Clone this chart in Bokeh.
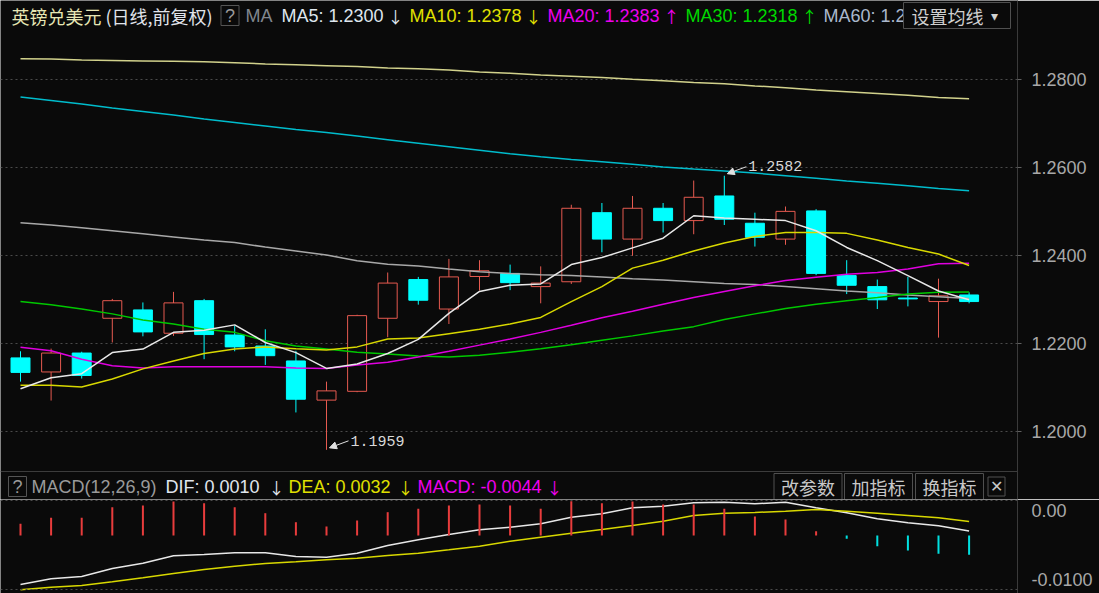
from bokeh.plotting import figure
from bokeh.layouts import column
from bokeh.models import (ColumnDataSource, FixedTicker, PrintfTickFormatter, Range1d,
                          Label, Span, Arrow, NormalHead)
from bokeh.embed import file_html
from bokeh.resources import INLINE

# ---------------- data ----------------
opens = [1.2168, 1.2136, 1.2179, 1.2258, 1.2277, 1.2224, 1.2298, 1.2220, 1.2195, 1.2161, 1.2072,
         1.2092, 1.2258, 1.2346, 1.2279, 1.2353, 1.2360, 1.2330, 1.2341, 1.2498, 1.2438, 1.2508,
         1.2480, 1.2536, 1.2474, 1.2438, 1.2502, 1.2355, 1.2330, 1.2304, 1.2296, 1.2311]
highs = [1.2183, 1.2189, 1.2182, 1.2302, 1.2294, 1.2318, 1.2302, 1.2241, 1.2233, 1.2184, 1.2114,
         1.2266, 1.2362, 1.2352, 1.2393, 1.2390, 1.2380, 1.2376, 1.2516, 1.2520, 1.2536, 1.2520,
         1.2571, 1.2582, 1.2498, 1.2512, 1.2506, 1.2390, 1.2346, 1.2352, 1.2348, 1.2317]
lows = [1.2114, 1.2071, 1.2121, 1.2203, 1.2217, 1.2218, 1.2165, 1.2183, 1.2152, 1.2044, 1.1959,
        1.2090, 1.2215, 1.2289, 1.2245, 1.2321, 1.2322, 1.2292, 1.2336, 1.2408, 1.2400, 1.2453,
        1.2449, 1.2470, 1.2421, 1.2425, 1.2356, 1.2313, 1.2279, 1.2285, 1.2214, 1.2292]
closes = [1.2135, 1.2179, 1.2128, 1.2298, 1.2227, 1.2293, 1.2221, 1.2193, 1.2173, 1.2074, 1.2093,
          1.2264, 1.2338, 1.2299, 1.2352, 1.2366, 1.2339, 1.2338, 1.2508, 1.2438, 1.2508, 1.2480,
          1.2533, 1.2483, 1.2442, 1.2501, 1.2360, 1.2333, 1.2300, 1.2302, 1.2309, 1.2296]

ma5 = [1.2098, 1.2123, 1.2132, 1.2180, 1.2188, 1.2226, 1.2231, 1.2243, 1.2203, 1.2180, 1.2144,
       1.2154, 1.2178, 1.2210, 1.2269, 1.2319, 1.2333, 1.2336, 1.2380, 1.2396, 1.2418, 1.2440,
       1.2491, 1.2486, 1.2483, 1.2480, 1.2457, 1.2419, 1.2389, 1.2355, 1.2320, 1.2300]
ma10 = [1.2106, 1.2106, 1.2102, 1.2120, 1.2143, 1.2161, 1.2178, 1.2188, 1.2193, 1.2189, 1.2186,
        1.2193, 1.2211, 1.2213, 1.2223, 1.2233, 1.2245, 1.2260, 1.2296, 1.2330, 1.2372, 1.2390,
        1.2411, 1.2429, 1.2444, 1.2453, 1.2453, 1.2451, 1.2436, 1.2419, 1.2404, 1.2378]
ma20 = [1.2192, 1.2184, 1.2165, 1.2150, 1.2145, 1.2148, 1.2148, 1.2148, 1.2148, 1.2145, 1.2144,
        1.2152, 1.2158, 1.2170, 1.2183, 1.2197, 1.2211, 1.2226, 1.2242, 1.2259, 1.2274, 1.2290,
        1.2305, 1.2319, 1.2332, 1.2344, 1.2351, 1.2358, 1.2362, 1.2370, 1.2382, 1.2383]
ma30 = [1.2296, 1.2289, 1.2279, 1.2268, 1.2254, 1.2245, 1.2233, 1.2226, 1.2207, 1.2195, 1.2188,
        1.2181, 1.2177, 1.2172, 1.2170, 1.2174, 1.2181, 1.2189, 1.2198, 1.2208, 1.2218, 1.2229,
        1.2239, 1.2255, 1.2268, 1.2280, 1.2290, 1.2298, 1.2305, 1.2313, 1.2317, 1.2318]
ma60 = [1.2475, 1.2470, 1.2464, 1.2457, 1.2450, 1.2443, 1.2436, 1.2430, 1.2420, 1.2411, 1.2402,
        1.2389, 1.2381, 1.2377, 1.2370, 1.2364, 1.2360, 1.2357, 1.2355, 1.2352, 1.2348, 1.2345,
        1.2341, 1.2337, 1.2335, 1.2330, 1.2325, 1.2320, 1.2316, 1.2311, 1.2307, 1.2303]
ma120 = [1.2761, 1.2753, 1.2745, 1.2736, 1.2728, 1.2720, 1.2711, 1.2703, 1.2695, 1.2687, 1.2680,
         1.2672, 1.2664, 1.2656, 1.2648, 1.2640, 1.2632, 1.2625, 1.2619, 1.2614, 1.2608, 1.2602,
         1.2597, 1.2593, 1.2588, 1.2582, 1.2576, 1.2570, 1.2565, 1.2559, 1.2553, 1.2548]
ma250 = [1.2848, 1.2847, 1.2845, 1.2844, 1.2843, 1.2842, 1.2841, 1.2839, 1.2836, 1.2834, 1.2832,
         1.2830, 1.2827, 1.2825, 1.2822, 1.2818, 1.2815, 1.2811, 1.2808, 1.2805, 1.2801, 1.2798,
         1.2794, 1.2791, 1.2786, 1.2782, 1.2777, 1.2773, 1.2769, 1.2765, 1.2760, 1.2757]

dif = [-0.01114, -0.00984, -0.00932, -0.00750, -0.00630, -0.00461, -0.00432, -0.00393, -0.00393,
       -0.00477, -0.00493, -0.00402, -0.00227, -0.00098, 0.00023, 0.00130, 0.00189, 0.00266,
       0.00416, 0.00493, 0.00630, 0.00666, 0.00743, 0.00757, 0.00720, 0.00757, 0.00630, 0.00516,
       0.00380, 0.00289, 0.00220, 0.00100]
dea = [-0.01234, -0.01175, -0.01136, -0.01052, -0.00961, -0.00864, -0.00773, -0.00698, -0.00636,
       -0.00595, -0.00552, -0.00516, -0.00455, -0.00402, -0.00325, -0.00243, -0.00130, -0.00039,
       0.00052, 0.00136, 0.00227, 0.00325, 0.00455, 0.00507, 0.00523, 0.00552, 0.00591, 0.00552,
       0.00507, 0.00455, 0.00402, 0.00320]
macd = [0.00266, 0.00402, 0.00402, 0.00643, 0.00682, 0.00773, 0.00734, 0.00643, 0.00507, 0.00302,
        0.00205, 0.00341, 0.00530, 0.00607, 0.00682, 0.00705, 0.00682, 0.00607, 0.00780, 0.00734,
        0.00773, 0.00705, 0.00705, 0.00607, 0.00432, 0.00364, 0.00098, -0.00075, -0.00243,
        -0.00341, -0.00416, -0.00440]

price_ticks = [1.20, 1.22, 1.24, 1.26, 1.28]
macd_ticks = [-0.01]
cursor_value = 0.00568          # level of the highlighted "0.00" marker on the MACD scale
cursor_text = "0.00"

# ---------------- styling / layout constants ----------------
BG = "#0a0a0a"
RED = "#e65a50"
CYAN = "#00ffff"
GRID = "#4a4a4a"
AXIS = "#3a3a3a"
TICKTXT = "#a8a8a8"
W = 1099
HA = 499
HB = 94
FRAME_W = 1017
PX = 30.6      # pixels per candle
PY = 4400.0    # pixels per price unit
FIRST = 20     # pixel position of first candle
TOP_PRICE_PX = 79.3   # pixel row of the 1.28 level
ZERO_PX = 36          # pixel row of MACD zero inside its panel

n = len(opens)
idx = list(range(n))
xr = Range1d(-FIRST / PX, (FRAME_W - FIRST) / PX)

pA = figure(width=W, height=HA, x_range=xr,
            y_range=Range1d(1.28 - (HA - TOP_PRICE_PX) / PY, 1.28 + TOP_PRICE_PX / PY),
            output_backend="svg", toolbar_location=None, title=None,
            x_axis_location=None, y_axis_location="right",
            min_border_left=0, min_border_top=0, min_border_bottom=0, min_border_right=W - FRAME_W,
            background_fill_color=BG, border_fill_color=BG, outline_line_color=None)

def style_axis(ax, ticks):
    ax.ticker = FixedTicker(ticks=ticks)
    ax.formatter = PrintfTickFormatter(format="%.4f")
    ax.major_label_text_color = TICKTXT
    ax.major_label_text_font = "Liberation Sans"
    ax.major_label_text_font_size = "18px"
    ax.axis_line_color = AXIS
    ax.major_tick_line_color = "#606060"
    ax.major_tick_in = 0
    ax.major_tick_out = 4
    ax.minor_tick_line_color = None
    ax.major_label_standoff = 10

style_axis(pA.yaxis[0], price_ticks)
pA.xgrid.visible = False
pA.ygrid.ticker = FixedTicker(ticks=price_ticks)
pA.ygrid.grid_line_color = GRID
pA.ygrid.grid_line_dash = "2 3"

# candles
up_i = [i for i in idx if closes[i] >= opens[i]]
dn_i = [i for i in idx if closes[i] < opens[i]]
def sub(lst, ii):
    return [lst[i] for i in ii]
srcU = ColumnDataSource(dict(x=up_i, o=sub(opens, up_i), h=sub(highs, up_i), l=sub(lows, up_i), c=sub(closes, up_i)))
srcD = ColumnDataSource(dict(x=dn_i, o=sub(opens, dn_i), h=sub(highs, dn_i), l=sub(lows, dn_i), c=sub(closes, dn_i)))
pA.segment(x0="x", y0="h", x1="x", y1="l", source=srcU, line_color=RED, line_width=1)
pA.vbar(x="x", width=0.62, top="c", bottom="o", source=srcU, fill_color=BG, line_color=RED, line_width=1)
pA.segment(x0="x", y0="h", x1="x", y1="l", source=srcD, line_color=CYAN, line_width=1)
pA.vbar(x="x", width=0.62, top="o", bottom="c", source=srcD, fill_color=CYAN, line_color=CYAN, line_width=1)

# moving averages
for vals, col in [(ma250, "#d2d28c"), (ma120, "#00bccc"), (ma60, "#a8a8a8"), (ma30, "#00c800"),
                  (ma20, "#e000e0"), (ma10, "#d8d800"), (ma5, "#e8e8e8")]:
    pA.line(idx, vals, line_color=col, line_width=1.5)

# high / low annotations
hi = max(idx, key=lambda i: highs[i])
lo = min(idx, key=lambda i: lows[i])
for i, yv in [(hi, highs[hi]), (lo, lows[lo])]:
    pA.add_layout(Label(x=i, y=yv, x_offset=24, y_offset=10 if i == hi else 9, text=f"{yv:.4f}",
                        text_font="Liberation Mono", text_font_size="15px",
                        text_color="#d8d8d8", text_baseline="middle"))
    pA.add_layout(Arrow(end=NormalHead(size=7, fill_color="#e0e0e0", line_color="#e0e0e0"),
                        x_start=i + 22 / PX, y_start=yv + 9 / PY, x_end=i + 3 / PX, y_end=yv + 2 / PY,
                        line_color="#e0e0e0", line_width=1))

# separator between panels
pA.add_layout(Span(location=1.28 - (471 - TOP_PRICE_PX) / PY, dimension="width",
                   line_color="#3c3c3c", line_width=1))

def lab(p, x, y, text, color, size="18px", font="Liberation Sans", **kw):
    p.add_layout(Label(x=x, y=y, x_units="screen", y_units="screen", text=text, text_color=color,
                       text_font_size=size, text_font=font, text_baseline="middle", **kw))

def arrow_of(vals):
    return "\u2191" if vals[-1] >= vals[-2] else "\u2193"

CJK = "Noto Sans CJK SC"
HY = HA - 15   # header row
lab(pA, 11, HY, "英镑兑美元", "#e6e6b4", font=CJK)
lab(pA, 105, HY, "(日线,前复权)", "#e0e4ea", font=CJK)
lab(pA, 229.5, HY, "?", "#9a9a9a", text_align="center", border_line_color="#555555",
    padding=dict(left=4, right=4, top=0, bottom=0))
lab(pA, 245, HY, "MA", "#80868e")
ma_items = [("MA5", ma5, "#dfe6ee", 281, 387), ("MA10", ma10, "#e0e000", 409, 525),
            ("MA20", ma20, "#ee00ee", 547, 663), ("MA30", ma30, "#00d800", 685, 801)]
for name, vals, col, xt, xa in ma_items:
    lab(pA, xt, HY, f"{name}: {vals[-1]:.4f}", col)
    lab(pA, xa, HY, arrow_of(vals), col, size="16px", font=CJK)
lab(pA, 823, HY, f"MA60: {ma60[-1]:.4f}", "#aab8cc")
lab(pA, 903, HY, "设置均线", "#d0d0d0", font=CJK, background_fill_color=BG,
    border_line_color="#505050", padding=dict(left=8, right=27, top=0, bottom=0))
lab(pA, 990, HY, "\u25BE", "#d0d0d0", size="14px")

MY = HA - 486  # MACD header row
lab(pA, 17, MY, "?", "#9a9a9a", text_align="center", border_line_color="#555555",
    padding=dict(left=4, right=4, top=0, bottom=0))
lab(pA, 31, MY, "MACD(12,26,9)", "#9a9a9a")
for name, vals, col, xt, xa in [("DIF", dif, "#e0e6ee", 165, 268), ("DEA", dea, "#e0e000", 288, 397),
                                ("MACD", macd, "#ee00ee", 417, 546)]:
    lab(pA, xt, MY, f"{name}: {vals[-1]:.4f}", col)
    lab(pA, xa, MY, arrow_of(vals), col, size="16px", font=CJK)
for xc, t in [(807.5, "改参数"), (878, "加指标"), (949, "换指标")]:
    lab(pA, xc, MY, t, "#c8c8c8", font=CJK, text_align="center",
        border_line_color="#505050", padding=dict(left=7, right=7, top=0, bottom=0))
lab(pA, 996, MY, "\u2715", "#c8c8c8", size="16px", text_align="center",
    border_line_color="#505050", padding=dict(left=2, right=2, top=1, bottom=1))

# ---------------- MACD panel ----------------
pB = figure(width=W, height=HB, x_range=xr, y_range=Range1d(-(HB - ZERO_PX) / PY, ZERO_PX / PY),
            output_backend="svg", toolbar_location=None, title=None,
            x_axis_location=None, y_axis_location="right",
            min_border_left=0, min_border_top=0, min_border_bottom=0, min_border_right=W - FRAME_W,
            background_fill_color=BG, border_fill_color=BG, outline_line_color=None)
style_axis(pB.yaxis[0], macd_ticks + [cursor_value])
pB.yaxis[0].major_label_overrides = {cursor_value: cursor_text}
pB.yaxis[0].major_tick_line_color = None
pB.grid.visible = False
for loc in [35 / PY, -54 / PY]:
    pB.add_layout(Span(location=loc, dimension="width", line_color=GRID, line_dash="2 3", line_width=1))

pB.line(idx, dif, line_color="#e8e8e8", line_width=1.5)
pB.line(idx, dea, line_color="#d8d800", line_width=1.5)
bar_col = ["#e83c3c" if v >= 0 else "#00e0e0" for v in macd]
pB.segment(x0=idx, y0=[0] * n, x1=idx, y1=macd, line_color=bar_col, line_width=2)

layout = column(pA, pB, spacing=0)
open("out.html", "w").write(file_html(layout, INLINE))
